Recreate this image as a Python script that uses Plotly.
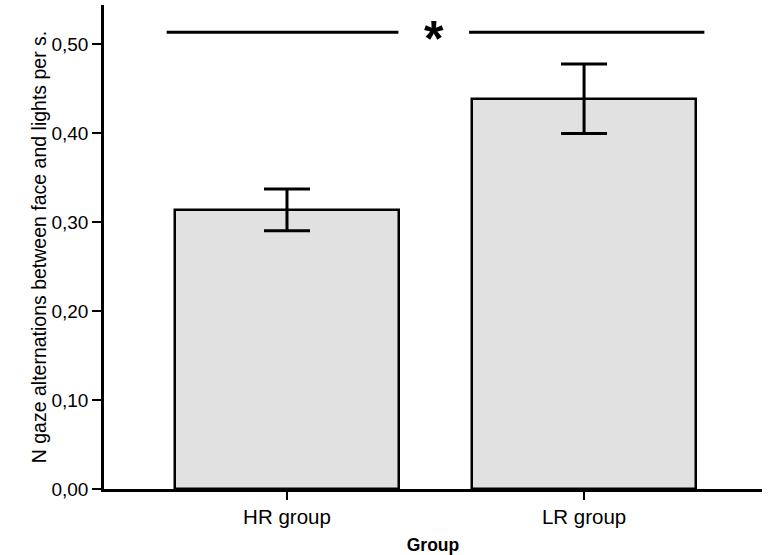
import plotly.graph_objects as go

groups = ["HR group", "LR group"]
means = [0.314, 0.439]
ci_upper = [0.3375, 0.478]
ci_lower = [0.2905, 0.400]
sig_level = 0.5137
sig_label = "*"
y_ticks = [0.0, 0.1, 0.2, 0.3, 0.4, 0.5]

xpos = list(range(len(groups)))
err_plus = [u - m for u, m in zip(ci_upper, means)]
err_minus = [m - l for m, l in zip(means, ci_lower)]

FONT = "Arial, Liberation Sans, sans-serif"

fig = go.Figure()
fig.add_trace(go.Bar(
    x=xpos, y=means, width=0.754,
    marker=dict(color="#e1e1e1", line=dict(color="black", width=2.5)),
    error_y=dict(type="data", symmetric=False, array=err_plus, arrayminus=err_minus,
                 color="black", thickness=3, width=23),
    showlegend=False,
))

# significance bracket
fig.add_shape(type="line", xref="x", yref="y", x0=-0.405, x1=0.375, y0=sig_level, y1=sig_level,
              line=dict(color="black", width=3))
fig.add_shape(type="line", xref="x", yref="y", x0=0.613, x1=1.405, y0=sig_level, y1=sig_level,
              line=dict(color="black", width=3))
fig.add_annotation(x=0.495, y=sig_level, xref="x", yref="y", text="<b>" + sig_label + "</b>",
                   showarrow=False, font=dict(family=FONT, size=50, color="black"), yshift=-7)

fig.update_layout(
    width=777, height=555,
    margin=dict(l=104, r=15, t=5, b=66),
    plot_bgcolor="white", paper_bgcolor="white",
    separators=",.",
    font=dict(family=FONT, color="black"),
    bargap=0,
)
fig.update_xaxes(
    range=[-0.616, 1.599], tickvals=xpos, ticktext=groups,
    showline=True, linecolor="black", linewidth=2.5,
    ticks="outside", ticklen=8, tickwidth=1.5, tickcolor="black",
    tickfont=dict(size=20.5, color="black"),
    showgrid=False, zeroline=False, automargin=False,
    title=dict(text="<b>Group</b>", font=dict(size=17.5), standoff=12),
)
fig.update_yaxes(
    range=[0, 0.5444], tickvals=y_ticks, tickformat=".2f",
    showline=True, linecolor="black", linewidth=2.5,
    ticks="outside", ticklen=9, tickwidth=2, tickcolor="black",
    tickfont=dict(size=19, color="black"),
    showgrid=False, zeroline=False, automargin=False,
    title=dict(text="N gaze alternations between face and lights per s.", font=dict(size=19.5), standoff=0),
)

fig.write_html("out.html")
